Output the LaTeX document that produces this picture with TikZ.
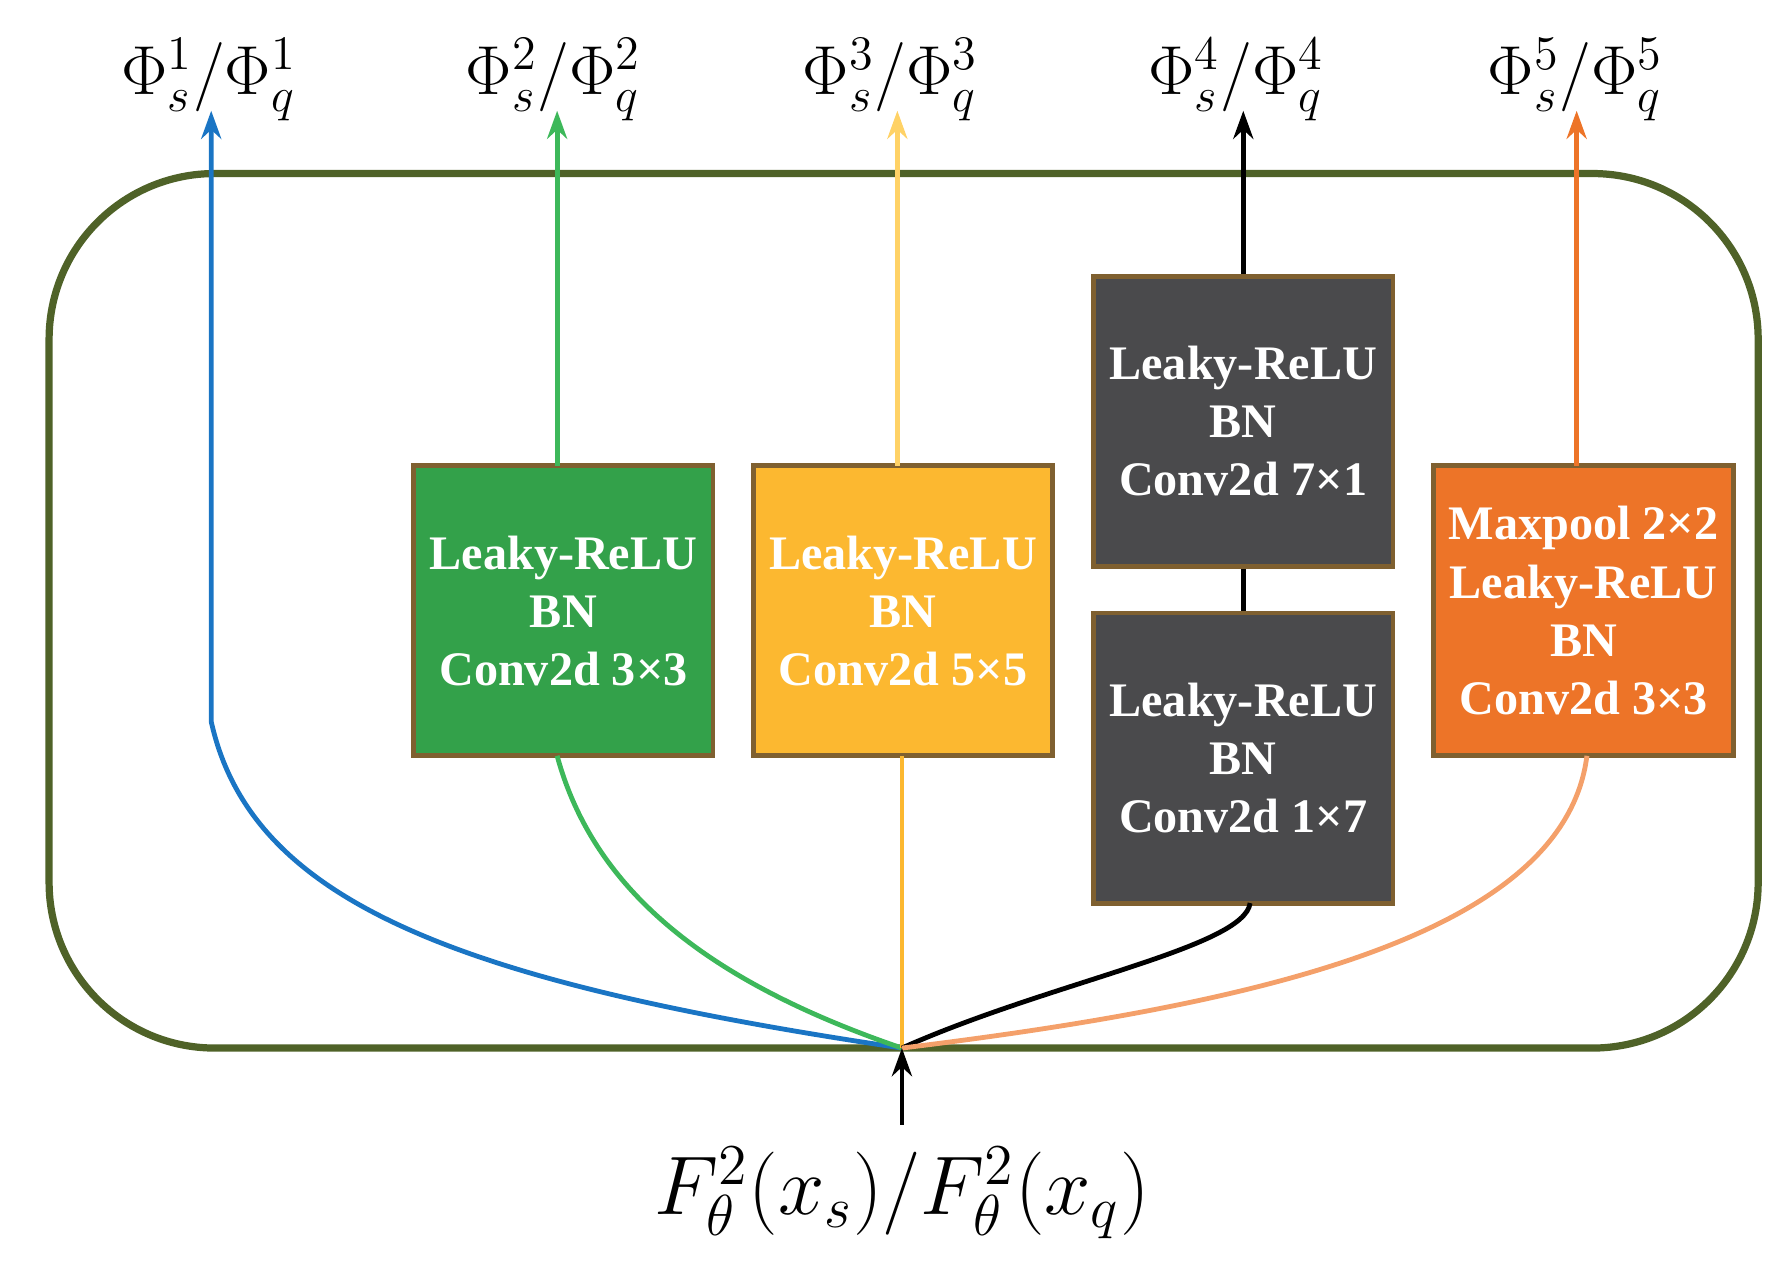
\documentclass[tikz,border=0pt]{standalone}
\usepackage{fontspec}
\setmainfont{Liberation Serif}
\usetikzlibrary{arrows.meta}
\definecolor{olive}{HTML}{4F6228}
\definecolor{bord}{HTML}{7F6030}
\definecolor{cblue}{HTML}{1A75C4}
\definecolor{cgreen}{HTML}{33A14A}
\definecolor{cgreenl}{HTML}{3DB85A}
\definecolor{cyel}{HTML}{FCB830}
\definecolor{cyell}{HTML}{FFD266}
\definecolor{cdark}{HTML}{4A4A4C}
\definecolor{corange}{HTML}{ED7428}
\definecolor{corl}{HTML}{F4A06A}
\begin{document}
\begin{tikzpicture}[x=0.01cm,y=-0.01cm,
  blk/.style={draw=bord,line width=1.2pt,minimum width=2.62cm,minimum height=2.54cm,text=white,font=\bfseries\fontsize{12}{14.5}\selectfont,align=center,inner sep=0pt},
  ln/.style={line width=1.2pt},
  arr/.style={ln,-{Stealth[length=7pt,width=5pt]}},
  lab/.style={font=\fontsize{17}{20}\selectfont}]
\useasboundingbox (0,0) rectangle (1560,1112);
\draw[olive,line width=1.8pt,rounded corners=1.45cm] (43,152) rectangle (1540,918);
\node[blk,fill=cgreen] (g) at (493.5,535) {Leaky-ReLU\\BN\\Conv2d 3×3};
\node[blk,fill=cyel] (y) at (791,535) {Leaky-ReLU\\BN\\Conv2d 5×5};
\node[blk,fill=cdark] (d1) at (1089,369) {Leaky-ReLU\\BN\\Conv2d 7×1};
\node[blk,fill=cdark] (d2) at (1089,664) {Leaky-ReLU\\BN\\Conv2d 1×7};
\node[blk,fill=corange] (o) at (1387,535) {Maxpool 2×2\\Leaky-ReLU\\BN\\Conv2d 3×3};
\coordinate (c) at (790,918);
\coordinate (in) at (790,985);
\node[lab] (p1) at (183,70) {$\Phi_s^1\big/\Phi_q^1$};
\node[lab] (p2) at (485,70) {$\Phi_s^2\big/\Phi_q^2$};
\node[lab] (p3) at (780,70) {$\Phi_s^3\big/\Phi_q^3$};
\node[lab] (p4) at (1083,70) {$\Phi_s^4\big/\Phi_q^4$};
\node[lab] (p5) at (1380,70) {$\Phi_s^5\big/\Phi_q^5$};
\node[font=\fontsize{22}{26}\selectfont] (f) at (790,1045) {$F_\theta^2\big(x_s\big)\big/F_\theta^2\big(x_q\big)$};
\coordinate (b1) at (185,632);
\draw[cblue,arr] (c) .. controls (400,860) and (220,790) .. (b1) -- (185,97);
\draw[cgreenl,ln] (c) .. controls (620,860) and (520,780) .. (488,662);
\draw[cgreenl,arr] (488,408) -- (488,97);
\draw[cyel,ln] (c) -- (790,662);
\draw[cyell,arr] (786,408) -- (786,97);
\draw[black,ln] (c) .. controls (920,860) and (1090,830) .. (1095,791);
\draw[black,ln] (d1.south) -- (d2.north);
\draw[black,arr] (d1.north) -- (1089,97);
\draw[corl,ln] (c) .. controls (1100,880) and (1370,820) .. (1390,662);
\draw[corange,arr] (1381,408) -- (1381,97);
\draw[black,arr] (in) -- (c);
\end{tikzpicture}
\end{document}
